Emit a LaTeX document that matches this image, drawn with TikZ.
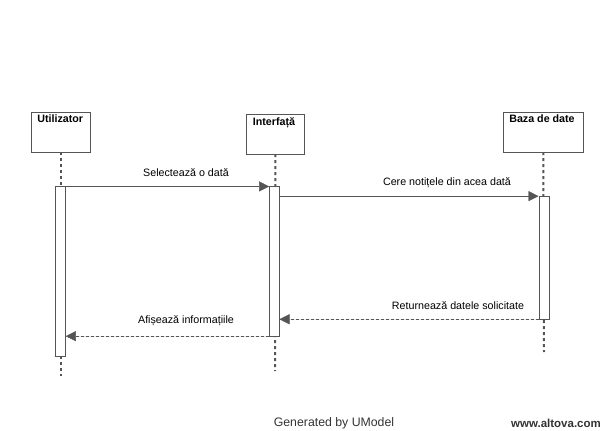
\documentclass[tikz,border=0pt]{standalone}
\usepackage{fontspec}
\setmainfont{Liberation Sans}
\usetikzlibrary{arrows.meta}
\definecolor{linegray}{HTML}{555555}
\tikzset{
  obj/.style={draw=linegray, fill=white, inner sep=0pt, minimum height=40pt},
  objname/.style={font=\fontsize{10.7}{12}\selectfont\bfseries, inner sep=0pt, anchor=north},
  actbar/.style={draw=linegray, fill=white, inner sep=0pt, minimum width=10pt},
  life/.style={draw=linegray, line width=2pt, dash pattern=on 3pt off 3pt},
  msg/.style={draw=linegray, -{Triangle[length=10pt,width=10pt]}, fill=linegray},
  reply/.style={msg, dash pattern=on 3pt off 2pt},
  msglabel/.style={font=\fontsize{10.7}{12}\selectfont, inner sep=0pt}
}

\begin{document}
\begin{tikzpicture}[x=1pt, y=-1pt]
\useasboundingbox (0,0) rectangle (614,431);
%\draw[help lines] (0,0) grid[step=50] (614,431);
\node[obj, minimum width=59.5pt] (u) at (60.7,132) {};
\node[obj, minimum width=57.3pt] (i) at (275.3,134) {};
\node[obj, minimum width=80.7pt] (b) at (543.3,132) {};
\node[objname] (un) at (60.2,115) {Utilizator};
\node[objname] (in) at (274,117) {Interfață};
\node[objname] (bn) at (542,115) {Baza de date};
\coordinate (uend) at (60.7,376);
\coordinate (iend) at (275,371);
\coordinate (bend) at (544,352);
\draw[life] (u.south) -- (uend);
\draw[life] (i.south) -- (iend);
\draw[life] (b.south) -- (bend);
\node[actbar, minimum height=169.3pt] (ub) at (60.6,271.3) {};
\node[actbar, minimum height=149.3pt] (ib) at (274.3,261.3) {};
\node[actbar, minimum height=122.7pt] (bb) at (543.7,257.7) {};
\draw[msg] (ub.north east) -- (ib.north west);
\draw[msg] (ib.east |- bb.north) -- (bb.north west);
\draw[reply] (bb.south west) -- (ib.east |- bb.south);
\draw[reply] (ib.south west) -- (ub.east |- ib.south);
\node[msglabel] (l1) at (186,173) {Selectează o dată};
\node[msglabel] (l2) at (447,183) {Cere notițele din acea dată};
\node[msglabel] (l3) at (458,306) {Returnează datele solicitate};
\node[msglabel] (l4) at (186,321) {Afișează informațiile};
\node[font=\fontsize{12.3}{14}\selectfont, text=black!80] (gen) at (334,423.5) {Generated by UModel};
\node[font=\fontsize{11.5}{14}\selectfont\bfseries, text=black!80] (web) at (556,423.5) {www.altova.com};
\end{tikzpicture}
\end{document}
